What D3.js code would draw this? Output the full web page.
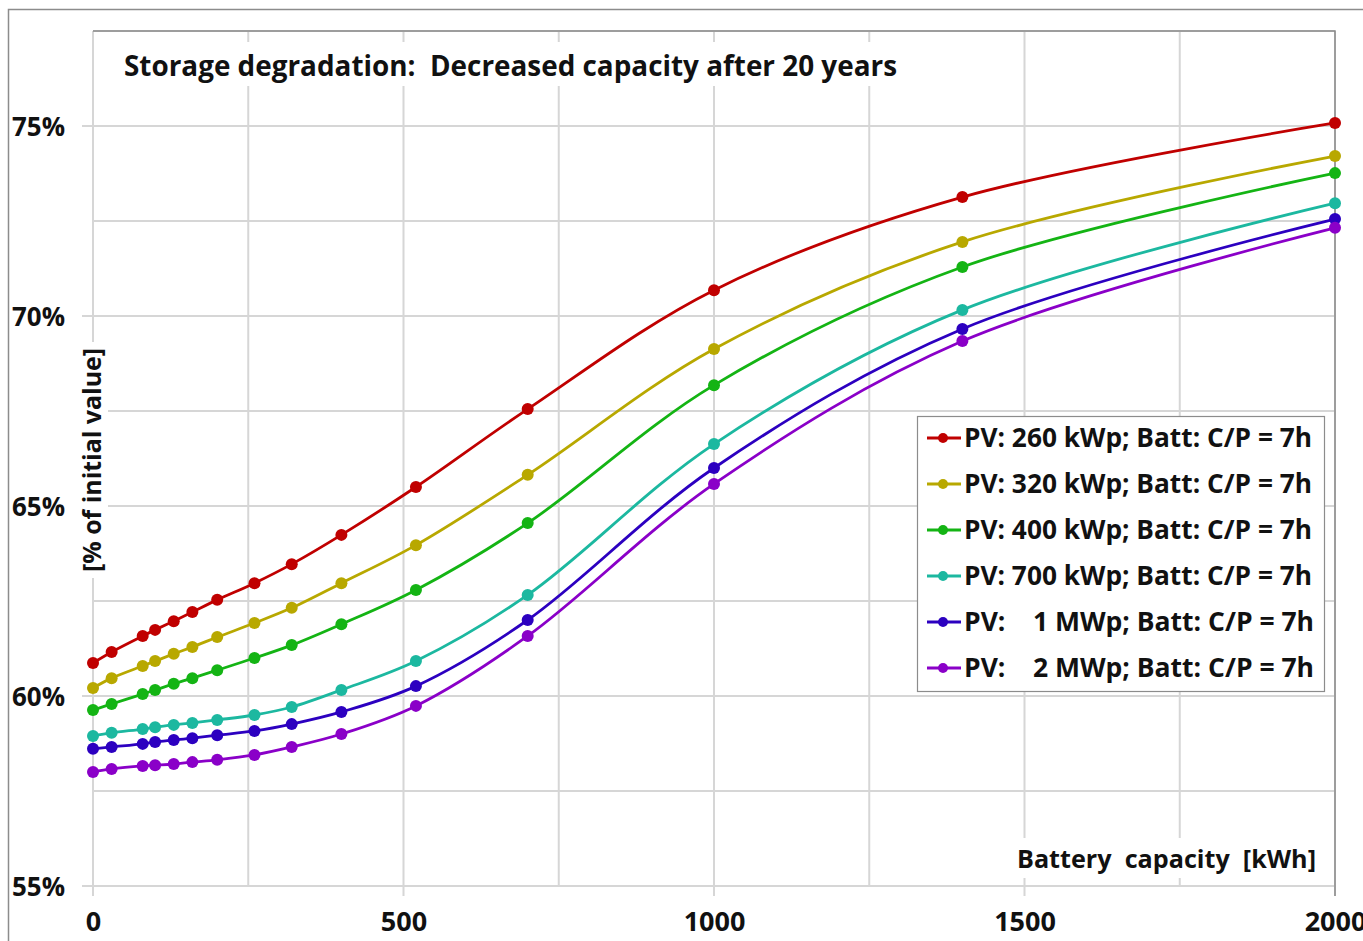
<!DOCTYPE html>
<html><head><meta charset="utf-8">
<script src="https://cdn.jsdelivr.net/npm/d3@7"></script>
<style>
body{margin:0;background:#fff;}
svg text{font-family:"Open Sans",Lato,sans-serif;font-weight:bold;fill:#111;white-space:pre;}
</style></head>
<body><svg id="c" width="1363" height="941"></svg>
<script>
const xValues = [0, 30, 80, 100, 130, 160, 200, 260, 320, 400, 520, 700, 1000, 1400, 2000];
const seriesNames = [
  "PV: 260 kWp; Batt: C/P = 7h",
  "PV: 320 kWp; Batt: C/P = 7h",
  "PV: 400 kWp; Batt: C/P = 7h",
  "PV: 700 kWp; Batt: C/P = 7h",
  "PV:    1 MWp; Batt: C/P = 7h",
  "PV:    2 MWp; Batt: C/P = 7h"
];
const seriesColors = ["#c00000", "#b8a800", "#14b414", "#1cb8a0", "#2c00c0", "#8a00c8"];
const pv260 = [60.87, 61.16, 61.58, 61.74, 61.97, 62.21, 62.53, 62.97, 63.47, 64.24, 65.50, 67.55, 70.68, 73.13, 75.08];
const pv320 = [60.21, 60.47, 60.79, 60.92, 61.11, 61.29, 61.55, 61.92, 62.32, 62.97, 63.97, 65.82, 69.13, 71.95, 74.21];
const pv400 = [59.63, 59.79, 60.05, 60.16, 60.32, 60.47, 60.68, 61.00, 61.34, 61.89, 62.79, 64.55, 68.18, 71.29, 73.76];
const pv700 = [58.95, 59.03, 59.13, 59.18, 59.24, 59.29, 59.37, 59.50, 59.71, 60.16, 60.92, 62.66, 66.63, 70.16, 72.97];
const pv1000 = [58.61, 58.66, 58.74, 58.79, 58.84, 58.89, 58.97, 59.08, 59.26, 59.58, 60.26, 62.00, 66.00, 69.66, 72.55];
const pv2000 = [58.00, 58.08, 58.16, 58.18, 58.21, 58.26, 58.32, 58.45, 58.66, 59.00, 59.74, 61.58, 65.58, 69.34, 72.32];
const seriesValues = [pv260, pv320, pv400, pv700, pv1000, pv2000];
const xTicks = [0, 500, 1000, 1500, 2000];
const yTicks = [55, 60, 65, 70, 75];
const titleText = "Storage degradation:  Decreased capacity after 20 years";
const yLabel = "[% of initial value]";
const xLabel = "Battery  capacity  [kWh]";

const svg = d3.select("#c");
const x = d3.scaleLinear().domain([0, 2000]).range([93, 1335]);
const y = d3.scaleLinear().domain([55, 77.5]).range([886, 31]);

function fit(sel, w) {
  sel.attr("textLength", w).attr("lengthAdjust", "spacingAndGlyphs");
}

// outer frame
svg.append("rect").attr("x", 8.5).attr("y", 9.5).attr("width", 1400).attr("height", 1000)
  .attr("fill", "none").attr("stroke", "#8c8c8c").attr("stroke-width", 1.5);

// grid
const grid = svg.append("g");
grid.selectAll("line.v").data(d3.range(0, 2001, 250)).join("line")
  .attr("x1", d => x(d)).attr("x2", d => x(d)).attr("y1", y(77.5)).attr("y2", d => d % 500 === 0 ? 896 : y(55))
  .attr("stroke", "#d6d6d6").attr("stroke-width", 2);
grid.selectAll("line.h").data(d3.range(55, 77.6, 2.5)).join("line")
  .attr("y1", d => y(d)).attr("y2", d => y(d)).attr("x1", d => d % 5 === 0 ? 82 : x(0)).attr("x2", x(2000))
  .attr("stroke", "#d6d6d6").attr("stroke-width", 2);
svg.append("path").attr("d", `M${x(0)},${y(77.5)}H${x(2000)}V896`).attr("fill", "none")
  .attr("stroke", "#8a8a8a").attr("stroke-width", 1.5);

// axes labels
const yAxis = d3.axisLeft(y).tickValues(yTicks).tickFormat(d => d + "%").tickSize(0).tickPadding(0);
const gy = svg.append("g").attr("transform", "translate(65,0)").call(yAxis);
gy.select(".domain").remove();
gy.selectAll("text").attr("font-size", 27).attr("font-family", "Open Sans").attr("font-weight", "bold").attr("fill", "#111").attr("dy", "0.35em");
gy.selectAll("text").each(function(){ fit(d3.select(this), 53); });
const xAxis = d3.axisBottom(x).tickValues(xTicks).tickFormat(d3.format("d")).tickSize(0).tickPadding(0);
const gx = svg.append("g").attr("transform", "translate(0,912)").call(xAxis);
gx.select(".domain").remove();
gx.selectAll("text").attr("font-size", 27).attr("font-family", "Open Sans").attr("font-weight", "bold").attr("fill", "#111").attr("dy", "0.7em");

// title with white box
const tg = svg.append("g");
tg.append("rect").attr("x", 114).attr("y", 42).attr("width", 795).attr("height", 44).attr("fill", "#fff");
fit(tg.append("text").attr("x", 124).attr("y", 76).attr("font-size", 28).text(titleText), 773);

// y label
const yl = svg.append("g").attr("transform", "translate(92,460) rotate(-90)");
yl.append("rect").attr("x", -118).attr("y", -16).attr("width", 236).attr("height", 32).attr("fill", "#fff");
fit(yl.append("text").attr("x", -112).attr("dy", "0.36em").attr("font-size", 25).text(yLabel), 224);

// x label
const xl = svg.append("g");
xl.append("rect").attr("x", 1008).attr("y", 838).attr("width", 316).attr("height", 40).attr("fill", "#fff");
fit(xl.append("text").attr("x", 1017).attr("y", 868).attr("font-size", 25).text(xLabel), 299);

// series
const line = d3.line().x(d => x(d[0])).y(d => y(d[1])).curve(d3.curveCatmullRom.alpha(0.5));
seriesValues.forEach((vals, i) => {
  const pts = xValues.map((xv, j) => [xv, vals[j]]);
  const g = svg.append("g");
  g.append("path").attr("d", line(pts)).attr("fill", "none").attr("stroke", seriesColors[i]).attr("stroke-width", 2.8);
  g.selectAll("circle").data(pts).join("circle")
    .attr("cx", d => x(d[0])).attr("cy", d => y(d[1])).attr("r", 6).attr("fill", seriesColors[i]);
});

// legend
const lg = svg.append("g");
lg.append("rect").attr("x", 917.5).attr("y", 416.5).attr("width", 407).attr("height", 275)
  .attr("fill", "#fff").attr("stroke", "#8c8c8c").attr("stroke-width", 1.2);
seriesNames.forEach((nm, i) => {
  const yy = 438 + i * 46;
  lg.append("line").attr("x1", 927).attr("x2", 961).attr("y1", yy).attr("y2", yy).attr("stroke", seriesColors[i]).attr("stroke-width", 2.8);
  lg.append("circle").attr("cx", 943).attr("cy", yy).attr("r", 5).attr("fill", seriesColors[i]);
  fit(lg.append("text").attr("x", 964).attr("y", yy).attr("dy", "0.36em").attr("font-size", 26).text(nm), i >= 4 ? 350 : 348);
});
</script></body></html>
